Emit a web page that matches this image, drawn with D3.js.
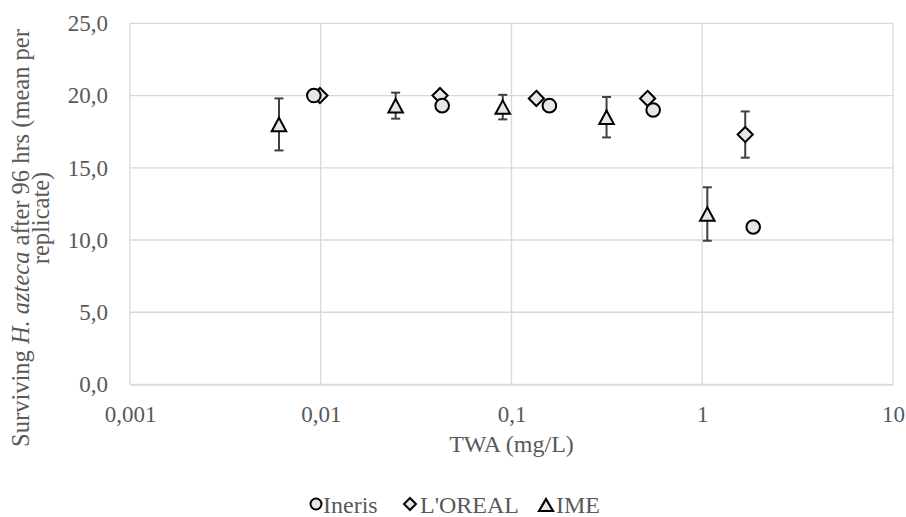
<!DOCTYPE html>
<html><head><meta charset="utf-8">
<script src="https://cdn.jsdelivr.net/npm/d3@7"></script>
<style>
html,body{margin:0;padding:0;background:#fff;}
svg{display:block;}
svg text{font-family:"Liberation Serif","Times New Roman",serif !important;}
</style></head>
<body><svg id="c" width="906" height="517"></svg>
<script>
// Data
const inerisX = [0.0092, 0.0433, 0.158, 0.553, 1.85];
const inerisY = [20.0, 19.3, 19.3, 19.0, 10.9];
const lorealX = [0.0099, 0.0422, 0.135, 0.517, 1.68];
const lorealY = [20.0, 20.0, 19.8, 19.8, 17.3];
const lorealErr = [0, 0, 0, 0, 1.6];
const imeX = [0.00604, 0.0247, 0.090, 0.315, 1.063];
const imeY = [18.0, 19.3, 19.2, 18.5, 11.8];
const imeErr = [1.8, 0.9, 0.85, 1.4, 1.85];
const xTicks = [0.001, 0.01, 0.1, 1, 10];
const xTickLabels = ["0,001", "0,01", "0,1", "1", "10"];
const yTicks = [0, 5, 10, 15, 20, 25];
const seriesNames = ["Ineris", "L'OREAL", "IME"];
const xTitle = "TWA (mg/L)";

const svg = d3.select("#c");
const L = 130, R = 893, T = 23.3, B = 384.5;
const x = d3.scaleLog().domain([0.001, 10]).range([L, R]);
const y = d3.scaleLinear().domain([0, 25]).range([B, T]);
const textCol = "#595959", gridCol = "#d9d9d9", fillCol = "#e7e6e6";
const fs = 23;
const FF = "'Liberation Serif','Times New Roman',serif";

// gridlines
const g = svg.append("g");
g.selectAll("line.h").data(yTicks).join("line")
  .attr("x1", L).attr("x2", R).attr("y1", d => y(d)).attr("y2", d => y(d))
  .attr("stroke", gridCol).attr("stroke-width", 1.3);
g.selectAll("line.v").data(xTicks).join("line")
  .attr("y1", T).attr("y2", B).attr("x1", d => x(d)).attr("x2", d => x(d))
  .attr("stroke", gridCol).attr("stroke-width", 1.3);

// axes (labels only)
const xAxis = d3.axisBottom(x).tickValues(xTicks).tickFormat((d, i) => xTickLabels[i]).tickSize(0).tickPadding(21);
const ax = svg.append("g").attr("transform", `translate(0,${B})`).call(xAxis).attr("font-family", FF);
ax.select(".domain").attr("stroke", gridCol).attr("stroke-width", 1.3);
ax.selectAll("text").attr("font-size", fs).attr("fill", textCol).style("font-family", FF);

const yAxis = d3.axisLeft(y).tickValues(yTicks).tickFormat(d => d3.format(".1f")(d).replace(".", ",")).tickSize(0).tickPadding(22);
const ay = svg.append("g").attr("transform", `translate(${L},0)`).call(yAxis).attr("font-family", FF);
ay.select(".domain").remove();
ay.selectAll("text").attr("font-size", fs).attr("fill", textCol).style("font-family", FF);

// axis titles
svg.append("text").attr("x", (L + R) / 2).attr("y", 452).attr("text-anchor", "middle")
  .attr("font-size", 24).attr("fill", textCol).style("font-family", FF).text(xTitle);

const yt = svg.append("text").attr("transform", "translate(29,238) rotate(-90)")
  .attr("text-anchor", "middle").attr("font-size", 24.5).attr("fill", textCol).style("font-family", FF);
yt.append("tspan").text("Surviving ");
yt.append("tspan").attr("font-style", "italic").text("H. azteca");
yt.append("tspan").text(" after 96 hrs (mean per");
svg.append("text").attr("transform", "translate(49,218) rotate(-90)")
  .attr("text-anchor", "middle").attr("font-size", 24.5).attr("fill", textCol).style("font-family", FF)
  .text("replicate)");

// error bars
function errBars(xs, ys, es) {
  const data = xs.map((d, i) => ({ x: d, y: ys[i], e: es[i] })).filter(d => d.e > 0);
  const eg = svg.append("g").attr("stroke", "#404040").attr("stroke-width", 2);
  data.forEach(d => {
    const cx = x(d.x), y1 = y(d.y + d.e), y2 = y(d.y - d.e);
    eg.append("line").attr("x1", cx).attr("x2", cx).attr("y1", y1).attr("y2", y2);
    eg.append("line").attr("x1", cx - 4.5).attr("x2", cx + 4.5).attr("y1", y1).attr("y2", y1);
    eg.append("line").attr("x1", cx - 4.5).attr("x2", cx + 4.5).attr("y1", y2).attr("y2", y2);
  });
}
errBars(lorealX, lorealY, lorealErr);
errBars(imeX, imeY, imeErr);

function diamond(s) { return `M0,${-s}L${s},0L0,${s}L${-s},0Z`; }
function triangle(w, h) { return `M0,${-h / 2}L${w / 2},${h / 2}L${-w / 2},${h / 2}Z`; }

// markers
svg.append("g").selectAll("path").data(lorealX.map((d, i) => [d, lorealY[i]])).join("path")
  .attr("d", diamond(7.6)).attr("transform", d => `translate(${x(d[0])},${y(d[1])})`)
  .attr("fill", fillCol).attr("stroke", "#000").attr("stroke-width", 2);
svg.append("g").selectAll("circle").data(inerisX.map((d, i) => [d, inerisY[i]])).join("circle")
  .attr("cx", d => x(d[0])).attr("cy", d => y(d[1])).attr("r", 6.8)
  .attr("fill", fillCol).attr("stroke", "#000").attr("stroke-width", 2);
svg.append("g").selectAll("path").data(imeX.map((d, i) => [d, imeY[i]])).join("path")
  .attr("d", triangle(14.5, 13.5)).attr("transform", d => `translate(${x(d[0])},${y(d[1])})`)
  .attr("fill", fillCol).attr("stroke", "#000").attr("stroke-width", 2);

// legend
const ly = 505;
const lg = svg.append("g");
lg.append("circle").attr("cx", 316).attr("cy", ly - 1).attr("r", 5.5).attr("fill", fillCol).attr("stroke", "#000").attr("stroke-width", 2);
lg.append("text").attr("x", 323).attr("y", ly + 7.5).attr("font-size", 24).attr("fill", textCol).style("font-family", FF).text(seriesNames[0]);
lg.append("path").attr("d", diamond(6)).attr("transform", `translate(410,${ly - 1})`).attr("fill", fillCol).attr("stroke", "#000").attr("stroke-width", 2);
lg.append("text").attr("x", 420).attr("y", ly + 7.5).attr("font-size", 24).attr("fill", textCol).style("font-family", FF).text(seriesNames[1]);
lg.append("path").attr("d", triangle(14, 12)).attr("transform", `translate(546,${ly})`).attr("fill", fillCol).attr("stroke", "#000").attr("stroke-width", 2.2);
lg.append("text").attr("x", 556).attr("y", ly + 7.5).attr("font-size", 24).attr("fill", textCol).style("font-family", FF).text(seriesNames[2]);
</script></body></html>
